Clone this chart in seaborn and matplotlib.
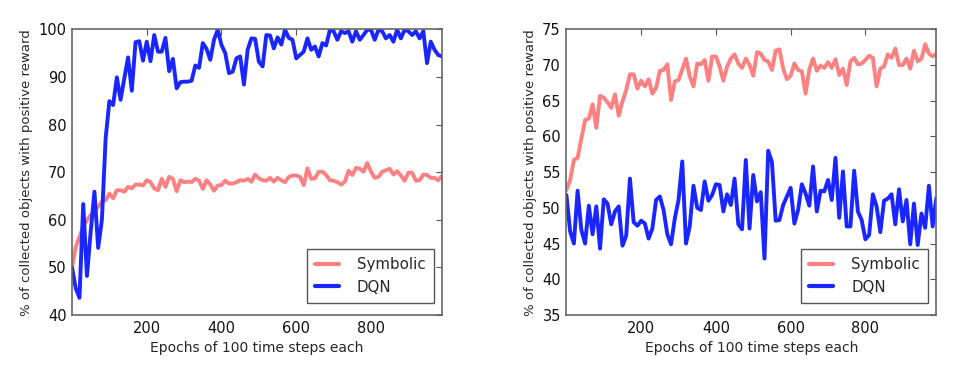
import numpy as np
import pandas as pd
import matplotlib
matplotlib.use("Agg")
import matplotlib.pyplot as plt
import seaborn as sns

epochs = list(range(0, 1000, 10))

left_symbolic = [50, 54.3, 56.4, 58.5, 59.9, 61.0, 61.7, 62.7, 63.8, 64.1,
                 65.5, 64.5, 66.2, 66.2, 65.9, 66.9, 66.6, 67.4, 67.4, 67.2,
                 68.3, 67.9, 66.6, 66.2, 68.6, 66.9, 69.0, 68.6, 66.0, 68.3,
                 67.9, 68.0, 67.9, 68.6, 68.2, 66.5, 68.3, 67.4, 66.1, 67.2,
                 67.3, 68.2, 67.6, 67.6, 67.9, 68.3, 68.2, 68.6, 68.0, 69.5,
                 68.7, 68.3, 68.2, 68.8, 68.0, 68.8, 68.3, 67.9, 69.0, 69.3,
                 69.3, 69.0, 67.3, 70.8, 68.6, 68.7, 70.1, 70.1, 69.4, 68.3,
                 68.2, 67.9, 67.4, 68.0, 70.3, 69.4, 70.9, 70.7, 70.1, 71.9,
                 70.1, 68.8, 69.0, 70.1, 70.4, 70.7, 69.5, 70.2, 69.3, 68.2,
                 69.9, 69.9, 68.2, 68.3, 69.5, 69.4, 68.8, 68.8, 68.3, 69.2]

left_dqn = [50.0, 45.6, 43.6, 63.3, 48.2, 57.5, 65.9, 54.1, 60.0, 77.1,
            84.9, 84.1, 89.9, 85.2, 89.7, 94.1, 87.1, 97.3, 97.5, 93.4,
            97.4, 93.3, 98.8, 95.3, 95.3, 98.2, 91.2, 93.8, 87.6, 88.9,
            89.0, 89.0, 89.2, 92.4, 91.9, 97.1, 95.9, 93.6, 97.8, 99.9,
            96.7, 95.0, 90.8, 91.1, 93.9, 94.3, 88.4, 95.7, 98.1, 98.0,
            93.2, 92.2, 98.8, 98.7, 96.0, 98.3, 96.8, 99.9, 98.2, 97.8,
            93.9, 94.6, 95.3, 98.1, 95.7, 96.4, 94.3, 97.1, 96.6, 99.9,
            99.6, 97.8, 99.6, 99.2, 99.6, 97.4, 99.6, 97.8, 98.8, 99.9,
            99.9, 97.8, 99.9, 99.6, 98.1, 98.8, 97.4, 99.9, 98.1, 99.9,
            99.6, 98.8, 99.6, 98.1, 99.6, 92.9, 97.4, 95.7, 94.6, 94.3]

right_symbolic = [52.5, 53.9, 56.7, 57.0, 59.7, 62.3, 62.5, 64.5, 61.2, 65.7,
                  65.4, 64.8, 64.0, 65.9, 62.9, 64.9, 66.5, 68.7, 68.7, 66.7,
                  67.8, 67.0, 68.0, 66.0, 66.8, 69.2, 69.3, 70.1, 65.1, 67.7,
                  67.9, 69.4, 70.9, 68.4, 67.0, 70.2, 70.1, 70.7, 67.8, 71.2,
                  71.2, 69.8, 67.8, 69.8, 70.9, 71.5, 70.2, 69.6, 70.9, 70.0,
                  68.5, 71.8, 71.6, 70.7, 70.5, 69.3, 72.0, 72.2, 69.5, 68.0,
                  68.5, 70.2, 69.3, 69.1, 66.0, 69.4, 70.9, 69.2, 69.9, 69.6,
                  70.4, 69.6, 70.8, 68.6, 69.5, 67.2, 70.5, 71.0, 70.1, 70.2,
                  70.7, 71.3, 71.0, 67.0, 69.5, 69.8, 71.5, 71.0, 72.3, 70.0,
                  70.0, 70.9, 69.5, 72.0, 70.5, 70.9, 72.9, 71.6, 71.2, 71.6]

right_dqn = [51.8, 46.7, 45.0, 52.4, 46.9, 45.0, 50.3, 46.3, 50.2, 44.3,
             51.2, 50.6, 47.7, 49.5, 50.2, 44.7, 46.1, 54.1, 48.0, 47.5,
             48.2, 47.8, 45.7, 47.1, 51.1, 51.6, 49.7, 46.3, 44.9, 48.5,
             51.1, 56.5, 45.0, 47.4, 53.1, 50.0, 49.7, 53.7, 51.0, 51.8,
             53.3, 53.2, 49.5, 51.9, 50.4, 54.1, 47.7, 47.0, 56.7, 47.1,
             54.6, 50.9, 52.2, 42.9, 58.0, 56.4, 48.2, 48.3, 50.4, 51.6,
             52.8, 47.8, 49.7, 53.3, 52.0, 50.3, 55.8, 49.5, 52.4, 52.3,
             53.9, 51.1, 57.0, 48.6, 55.1, 47.4, 47.4, 55.2, 49.5, 48.3,
             45.6, 46.2, 51.9, 50.2, 46.6, 51.0, 51.3, 51.9, 47.7, 52.6,
             48.1, 51.1, 44.9, 50.6, 44.8, 49.2, 47.2, 53.1, 47.4, 51.4]

series_names = ["Symbolic", "DQN"]
x_label = "Epochs of 100 time steps each"
y_label = "% of collected objects with positive reward"
left_yticks = [40, 50, 60, 70, 80, 90, 100]
right_yticks = [35, 40, 45, 50, 55, 60, 65, 70, 75]
x_ticks = [200, 400, 600, 800]

sns.set_style("white")
plt.rcParams["font.family"] = ["DejaVu Sans"]
plt.rcParams["xtick.direction"] = "in"
plt.rcParams["ytick.direction"] = "in"

colors = {"Symbolic": "#ff8080", "DQN": "#1a26ff"}

fig = plt.figure(figsize=(9.6, 3.84), dpi=100)
ax1 = fig.add_axes([0.075, 0.1797, 0.3854, 0.744])
ax2 = fig.add_axes([0.590, 0.1797, 0.3854, 0.744])

panels = [
    (ax1, left_symbolic, left_dqn, (40, 100), left_yticks),
    (ax2, right_symbolic, right_dqn, (35, 75), right_yticks),
]

for ax, sym, dqn, ylim, yticks in panels:
    df = pd.DataFrame({
        "epoch": epochs * 2,
        "value": list(sym) + list(dqn),
        "method": ["Symbolic"] * len(sym) + ["DQN"] * len(dqn),
    })
    sns.lineplot(data=df, x="epoch", y="value", hue="method",
                 hue_order=series_names, palette=colors, linewidth=2.8,
                 ax=ax, legend=True)
    ax.set_xlim(0, 990)
    ax.set_ylim(*ylim)
    ax.set_xticks(x_ticks)
    ax.set_yticks(yticks)
    ax.set_xlabel(x_label, fontsize=10)
    ax.set_ylabel(y_label, fontsize=9.5)
    ax.tick_params(axis="both", which="both", direction="in", length=4,
                   width=0.8, color="#555555", labelsize=10.5,
                   top=True, right=True, labelcolor="#111111", pad=4)
    for sp in ax.spines.values():
        sp.set_visible(True)
        sp.set_color("#666666")
        sp.set_linewidth(1.2)
    leg = ax.legend(loc="lower right", bbox_to_anchor=(0.978, 0.042),
                    borderaxespad=0.0, fontsize=10.8, frameon=True,
                    fancybox=False, framealpha=1.0, edgecolor="#555555",
                    handlelength=1.6, handletextpad=1.2, labelspacing=0.5,
                    borderpad=0.55)
    leg.get_frame().set_linewidth(1.0)
    for line in leg.get_lines():
        line.set_linewidth(3)

fig.savefig("out.png", dpi=100)
